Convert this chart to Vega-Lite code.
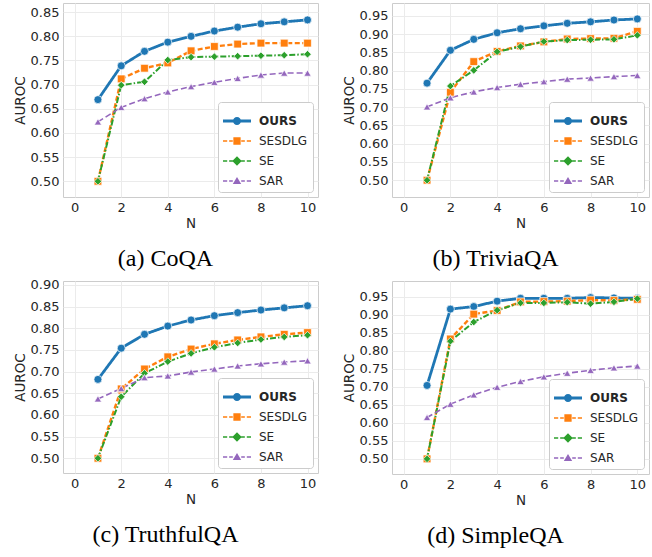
{
"$schema": "https://vega.github.io/schema/vega-lite/v6.json",
"padding": {"left": 12, "top": 2, "right": 5, "bottom": 5},
"background": "white",
"datasets": {
"coqa": [
{"method":"OURS","n":1,"auroc":0.669},{"method":"OURS","n":2,"auroc":0.739},{"method":"OURS","n":3,"auroc":0.769},{"method":"OURS","n":4,"auroc":0.788},{"method":"OURS","n":5,"auroc":0.800},{"method":"OURS","n":6,"auroc":0.811},{"method":"OURS","n":7,"auroc":0.819},{"method":"OURS","n":8,"auroc":0.826},{"method":"OURS","n":9,"auroc":0.830},{"method":"OURS","n":10,"auroc":0.834},
{"method":"SESDLG","n":1,"auroc":0.500},{"method":"SESDLG","n":2,"auroc":0.712},{"method":"SESDLG","n":3,"auroc":0.734},{"method":"SESDLG","n":4,"auroc":0.745},{"method":"SESDLG","n":5,"auroc":0.770},{"method":"SESDLG","n":6,"auroc":0.779},{"method":"SESDLG","n":7,"auroc":0.784},{"method":"SESDLG","n":8,"auroc":0.786},{"method":"SESDLG","n":9,"auroc":0.786},{"method":"SESDLG","n":10,"auroc":0.786},
{"method":"SE","n":1,"auroc":0.500},{"method":"SE","n":2,"auroc":0.699},{"method":"SE","n":3,"auroc":0.706},{"method":"SE","n":4,"auroc":0.751},{"method":"SE","n":5,"auroc":0.757},{"method":"SE","n":6,"auroc":0.758},{"method":"SE","n":7,"auroc":0.759},{"method":"SE","n":8,"auroc":0.760},{"method":"SE","n":9,"auroc":0.761},{"method":"SE","n":10,"auroc":0.763},
{"method":"SAR","n":1,"auroc":0.623},{"method":"SAR","n":2,"auroc":0.653},{"method":"SAR","n":3,"auroc":0.671},{"method":"SAR","n":4,"auroc":0.685},{"method":"SAR","n":5,"auroc":0.696},{"method":"SAR","n":6,"auroc":0.705},{"method":"SAR","n":7,"auroc":0.713},{"method":"SAR","n":8,"auroc":0.720},{"method":"SAR","n":9,"auroc":0.724},{"method":"SAR","n":10,"auroc":0.724}
],
"trivia": [
{"method":"OURS","n":1,"auroc":0.766},{"method":"OURS","n":2,"auroc":0.856},{"method":"OURS","n":3,"auroc":0.886},{"method":"OURS","n":4,"auroc":0.904},{"method":"OURS","n":5,"auroc":0.915},{"method":"OURS","n":6,"auroc":0.923},{"method":"OURS","n":7,"auroc":0.930},{"method":"OURS","n":8,"auroc":0.934},{"method":"OURS","n":9,"auroc":0.939},{"method":"OURS","n":10,"auroc":0.942},
{"method":"SESDLG","n":1,"auroc":0.500},{"method":"SESDLG","n":2,"auroc":0.741},{"method":"SESDLG","n":3,"auroc":0.825},{"method":"SESDLG","n":4,"auroc":0.853},{"method":"SESDLG","n":5,"auroc":0.868},{"method":"SESDLG","n":6,"auroc":0.879},{"method":"SESDLG","n":7,"auroc":0.887},{"method":"SESDLG","n":8,"auroc":0.888},{"method":"SESDLG","n":9,"auroc":0.889},{"method":"SESDLG","n":10,"auroc":0.908},
{"method":"SE","n":1,"auroc":0.500},{"method":"SE","n":2,"auroc":0.758},{"method":"SE","n":3,"auroc":0.801},{"method":"SE","n":4,"auroc":0.852},{"method":"SE","n":5,"auroc":0.866},{"method":"SE","n":6,"auroc":0.880},{"method":"SE","n":7,"auroc":0.884},{"method":"SE","n":8,"auroc":0.885},{"method":"SE","n":9,"auroc":0.886},{"method":"SE","n":10,"auroc":0.897},
{"method":"SAR","n":1,"auroc":0.701},{"method":"SAR","n":2,"auroc":0.726},{"method":"SAR","n":3,"auroc":0.742},{"method":"SAR","n":4,"auroc":0.754},{"method":"SAR","n":5,"auroc":0.763},{"method":"SAR","n":6,"auroc":0.770},{"method":"SAR","n":7,"auroc":0.777},{"method":"SAR","n":8,"auroc":0.780},{"method":"SAR","n":9,"auroc":0.784},{"method":"SAR","n":10,"auroc":0.787}
],
"truthful": [
{"method":"OURS","n":1,"auroc":0.682},{"method":"OURS","n":2,"auroc":0.754},{"method":"OURS","n":3,"auroc":0.786},{"method":"OURS","n":4,"auroc":0.805},{"method":"OURS","n":5,"auroc":0.819},{"method":"OURS","n":6,"auroc":0.829},{"method":"OURS","n":7,"auroc":0.836},{"method":"OURS","n":8,"auroc":0.842},{"method":"OURS","n":9,"auroc":0.847},{"method":"OURS","n":10,"auroc":0.852},
{"method":"SESDLG","n":1,"auroc":0.500},{"method":"SESDLG","n":2,"auroc":0.660},{"method":"SESDLG","n":3,"auroc":0.706},{"method":"SESDLG","n":4,"auroc":0.734},{"method":"SESDLG","n":5,"auroc":0.752},{"method":"SESDLG","n":6,"auroc":0.764},{"method":"SESDLG","n":7,"auroc":0.773},{"method":"SESDLG","n":8,"auroc":0.780},{"method":"SESDLG","n":9,"auroc":0.786},{"method":"SESDLG","n":10,"auroc":0.790},
{"method":"SE","n":1,"auroc":0.500},{"method":"SE","n":2,"auroc":0.642},{"method":"SE","n":3,"auroc":0.696},{"method":"SE","n":4,"auroc":0.723},{"method":"SE","n":5,"auroc":0.742},{"method":"SE","n":6,"auroc":0.756},{"method":"SE","n":7,"auroc":0.766},{"method":"SE","n":8,"auroc":0.774},{"method":"SE","n":9,"auroc":0.780},{"method":"SE","n":10,"auroc":0.784},
{"method":"SAR","n":1,"auroc":0.637},{"method":"SAR","n":2,"auroc":0.661},{"method":"SAR","n":3,"auroc":0.686},{"method":"SAR","n":4,"auroc":0.690},{"method":"SAR","n":5,"auroc":0.699},{"method":"SAR","n":6,"auroc":0.706},{"method":"SAR","n":7,"auroc":0.713},{"method":"SAR","n":8,"auroc":0.718},{"method":"SAR","n":9,"auroc":0.722},{"method":"SAR","n":10,"auroc":0.725}
],
"simple": [
{"method":"OURS","n":1,"auroc":0.704},{"method":"OURS","n":2,"auroc":0.916},{"method":"OURS","n":3,"auroc":0.923},{"method":"OURS","n":4,"auroc":0.938},{"method":"OURS","n":5,"auroc":0.946},{"method":"OURS","n":6,"auroc":0.946},{"method":"OURS","n":7,"auroc":0.946},{"method":"OURS","n":8,"auroc":0.948},{"method":"OURS","n":9,"auroc":0.947},{"method":"OURS","n":10,"auroc":0.946},
{"method":"SESDLG","n":1,"auroc":0.500},{"method":"SESDLG","n":2,"auroc":0.833},{"method":"SESDLG","n":3,"auroc":0.902},{"method":"SESDLG","n":4,"auroc":0.912},{"method":"SESDLG","n":5,"auroc":0.936},{"method":"SESDLG","n":6,"auroc":0.937},{"method":"SESDLG","n":7,"auroc":0.938},{"method":"SESDLG","n":8,"auroc":0.941},{"method":"SESDLG","n":9,"auroc":0.940},{"method":"SESDLG","n":10,"auroc":0.943},
{"method":"SE","n":1,"auroc":0.500},{"method":"SE","n":2,"auroc":0.827},{"method":"SE","n":3,"auroc":0.880},{"method":"SE","n":4,"auroc":0.913},{"method":"SE","n":5,"auroc":0.933},{"method":"SE","n":6,"auroc":0.933},{"method":"SE","n":7,"auroc":0.935},{"method":"SE","n":8,"auroc":0.931},{"method":"SE","n":9,"auroc":0.936},{"method":"SE","n":10,"auroc":0.945},
{"method":"SAR","n":1,"auroc":0.615},{"method":"SAR","n":2,"auroc":0.652},{"method":"SAR","n":3,"auroc":0.678},{"method":"SAR","n":4,"auroc":0.699},{"method":"SAR","n":5,"auroc":0.715},{"method":"SAR","n":6,"auroc":0.728},{"method":"SAR","n":7,"auroc":0.738},{"method":"SAR","n":8,"auroc":0.746},{"method":"SAR","n":9,"auroc":0.753},{"method":"SAR","n":10,"auroc":0.758}
]
},
"columns": 2,
"spacing": {"column": 22, "row": 7},
"resolve": {"scale": {"x": "independent", "y": "independent", "color": "independent"}, "legend": {"color": "independent"}},
"concat": [
{
"data": {"name": "coqa"},
"width": 255, "height": 194,
"title": {"text": "(a) CoQA", "orient": "bottom", "frame": "bounds", "anchor": "middle", "offset": 17},
"encoding": {
"x": {"field": "n", "type": "quantitative", "title": "N", "scale": {"domain": [-0.5, 10.45], "nice": false, "zero": false}, "axis": {"values": [0,2,4,6,8,10]}},
"y": {"field": "auroc", "type": "quantitative", "title": "AUROC", "scale": {"domain": [0.4675, 0.869], "nice": false, "zero": false}, "axis": {"values": [0.5,0.55,0.6,0.65,0.7,0.75,0.8,0.85], "format": ".2f"}}
},
"layer": [
{"mark": {"type": "line"}, "encoding": {
"stroke": {"field": "method", "type": "nominal", "scale": {"domain": ["OURS","SESDLG","SE","SAR"], "range": ["#1f77b4","#ff7f0e","#2ca02c","#9467bd"]}, "legend": null},
"strokeDash": {"field": "method", "type": "nominal", "scale": {"domain": ["OURS","SESDLG","SE","SAR"], "range": [[1,0],[5,2.5],[6,2,1.5,2],[6,3]]}, "legend": null},
"strokeWidth": {"field": "method", "type": "nominal", "scale": {"domain": ["OURS","SESDLG","SE","SAR"], "range": [2.8,1.6,1.6,1.6]}, "legend": null}}},
{"mark": {"type": "point", "filled": true, "opacity": 1, "stroke": "white", "strokeWidth": 0.7}, "encoding": {
"fill": {"field": "method", "type": "nominal", "scale": {"domain": ["OURS","SESDLG","SE","SAR"], "range": ["#1f77b4","#ff7f0e","#2ca02c","#9467bd"]}, "legend": null},
"shape": {"field": "method", "type": "nominal", "scale": {"domain": ["OURS","SESDLG","SE","SAR"], "range": ["circle","square","diamond","triangle-up"]}, "legend": null},
"size": {"field": "method", "type": "nominal", "scale": {"domain": ["OURS","SESDLG","SE","SAR"], "range": [64,53,90,50]}, "legend": null}}},
{"transform": [{"filter": "false"}], "mark": {"type": "point", "filled": true}, "encoding": {
"color": {"field": "method", "type": "nominal", "scale": {"domain": ["OURS","SESDLG","SE","SAR"], "range": ["#1f77b4","#ff7f0e","#2ca02c","#9467bd"]},
"legend": {"symbolSize": 784, "symbolStrokeWidth": 0, "symbolOpacity": 1, "encode": {"symbols": {"update": {"shape": {"signal": "datum.value === 'OURS' ? 'M-1,-0.1H1V0.1H-1Z M0.29,0A0.29,0.29 0 1,1 -0.29,0A0.29,0.29 0 1,1 0.29,0Z' : datum.value === 'SESDLG' ? 'M-1,-0.057H-0.7V0.057H-1Z M-0.56,-0.057H-0.3V0.057H-0.56Z M0.3,-0.057H0.56V0.057H0.3Z M0.7,-0.057H1V0.057H0.7Z M-0.26,-0.26H0.26V0.26H-0.26Z' : datum.value === 'SE' ? 'M-1,-0.057H-0.7V0.057H-1Z M-0.56,-0.057H-0.3V0.057H-0.56Z M0.3,-0.057H0.56V0.057H0.3Z M0.7,-0.057H1V0.057H0.7Z M0,-0.34L0.34,0L0,0.34L-0.34,0Z' : 'M-1,-0.057H-0.7V0.057H-1Z M-0.56,-0.057H-0.3V0.057H-0.56Z M0.3,-0.057H0.56V0.057H0.3Z M0.7,-0.057H1V0.057H0.7Z M0,-0.28L0.3,0.22H-0.3Z'"}}}, "labels": {"update": {"fontWeight": {"signal": "datum.label === 'OURS' ? 'bold' : 'normal'"}}}}}
}}}
]
},
{
"data": {"name": "trivia"},
"width": 257, "height": 194,
"title": {"text": "(b) TriviaQA", "orient": "bottom", "frame": "bounds", "anchor": "middle", "offset": 17},
"encoding": {
"x": {"field": "n", "type": "quantitative", "title": "N", "scale": {"domain": [-0.5, 10.5], "nice": false, "zero": false}, "axis": {"values": [0,2,4,6,8,10]}},
"y": {"field": "auroc", "type": "quantitative", "title": "AUROC", "scale": {"domain": [0.454, 0.9856], "nice": false, "zero": false}, "axis": {"values": [0.5,0.55,0.6,0.65,0.7,0.75,0.8,0.85,0.9,0.95], "format": ".2f"}}
},
"layer": [
{"mark": {"type": "line"}, "encoding": {
"stroke": {"field": "method", "type": "nominal", "scale": {"domain": ["OURS","SESDLG","SE","SAR"], "range": ["#1f77b4","#ff7f0e","#2ca02c","#9467bd"]}, "legend": null},
"strokeDash": {"field": "method", "type": "nominal", "scale": {"domain": ["OURS","SESDLG","SE","SAR"], "range": [[1,0],[5,2.5],[6,2,1.5,2],[6,3]]}, "legend": null},
"strokeWidth": {"field": "method", "type": "nominal", "scale": {"domain": ["OURS","SESDLG","SE","SAR"], "range": [2.8,1.6,1.6,1.6]}, "legend": null}}},
{"mark": {"type": "point", "filled": true, "opacity": 1, "stroke": "white", "strokeWidth": 0.7}, "encoding": {
"fill": {"field": "method", "type": "nominal", "scale": {"domain": ["OURS","SESDLG","SE","SAR"], "range": ["#1f77b4","#ff7f0e","#2ca02c","#9467bd"]}, "legend": null},
"shape": {"field": "method", "type": "nominal", "scale": {"domain": ["OURS","SESDLG","SE","SAR"], "range": ["circle","square","diamond","triangle-up"]}, "legend": null},
"size": {"field": "method", "type": "nominal", "scale": {"domain": ["OURS","SESDLG","SE","SAR"], "range": [64,53,90,50]}, "legend": null}}},
{"transform": [{"filter": "false"}], "mark": {"type": "point", "filled": true}, "encoding": {
"color": {"field": "method", "type": "nominal", "scale": {"domain": ["OURS","SESDLG","SE","SAR"], "range": ["#1f77b4","#ff7f0e","#2ca02c","#9467bd"]},
"legend": {"symbolSize": 784, "symbolStrokeWidth": 0, "symbolOpacity": 1, "encode": {"symbols": {"update": {"shape": {"signal": "datum.value === 'OURS' ? 'M-1,-0.1H1V0.1H-1Z M0.29,0A0.29,0.29 0 1,1 -0.29,0A0.29,0.29 0 1,1 0.29,0Z' : datum.value === 'SESDLG' ? 'M-1,-0.057H-0.7V0.057H-1Z M-0.56,-0.057H-0.3V0.057H-0.56Z M0.3,-0.057H0.56V0.057H0.3Z M0.7,-0.057H1V0.057H0.7Z M-0.26,-0.26H0.26V0.26H-0.26Z' : datum.value === 'SE' ? 'M-1,-0.057H-0.7V0.057H-1Z M-0.56,-0.057H-0.3V0.057H-0.56Z M0.3,-0.057H0.56V0.057H0.3Z M0.7,-0.057H1V0.057H0.7Z M0,-0.34L0.34,0L0,0.34L-0.34,0Z' : 'M-1,-0.057H-0.7V0.057H-1Z M-0.56,-0.057H-0.3V0.057H-0.56Z M0.3,-0.057H0.56V0.057H0.3Z M0.7,-0.057H1V0.057H0.7Z M0,-0.28L0.3,0.22H-0.3Z'"}}}, "labels": {"update": {"fontWeight": {"signal": "datum.label === 'OURS' ? 'bold' : 'normal'"}}}}}
}}}
]
},
{
"data": {"name": "truthful"},
"width": 255, "height": 192,
"title": {"text": "(c) TruthfulQA", "orient": "bottom", "frame": "bounds", "anchor": "middle", "offset": 17},
"encoding": {
"x": {"field": "n", "type": "quantitative", "title": "N", "scale": {"domain": [-0.5, 10.45], "nice": false, "zero": false}, "axis": {"values": [0,2,4,6,8,10]}},
"y": {"field": "auroc", "type": "quantitative", "title": "AUROC", "scale": {"domain": [0.466, 0.909], "nice": false, "zero": false}, "axis": {"values": [0.5,0.55,0.6,0.65,0.7,0.75,0.8,0.85,0.9], "format": ".2f"}}
},
"layer": [
{"mark": {"type": "line"}, "encoding": {
"stroke": {"field": "method", "type": "nominal", "scale": {"domain": ["OURS","SESDLG","SE","SAR"], "range": ["#1f77b4","#ff7f0e","#2ca02c","#9467bd"]}, "legend": null},
"strokeDash": {"field": "method", "type": "nominal", "scale": {"domain": ["OURS","SESDLG","SE","SAR"], "range": [[1,0],[5,2.5],[6,2,1.5,2],[6,3]]}, "legend": null},
"strokeWidth": {"field": "method", "type": "nominal", "scale": {"domain": ["OURS","SESDLG","SE","SAR"], "range": [2.8,1.6,1.6,1.6]}, "legend": null}}},
{"mark": {"type": "point", "filled": true, "opacity": 1, "stroke": "white", "strokeWidth": 0.7}, "encoding": {
"fill": {"field": "method", "type": "nominal", "scale": {"domain": ["OURS","SESDLG","SE","SAR"], "range": ["#1f77b4","#ff7f0e","#2ca02c","#9467bd"]}, "legend": null},
"shape": {"field": "method", "type": "nominal", "scale": {"domain": ["OURS","SESDLG","SE","SAR"], "range": ["circle","square","diamond","triangle-up"]}, "legend": null},
"size": {"field": "method", "type": "nominal", "scale": {"domain": ["OURS","SESDLG","SE","SAR"], "range": [64,53,90,50]}, "legend": null}}},
{"transform": [{"filter": "false"}], "mark": {"type": "point", "filled": true}, "encoding": {
"color": {"field": "method", "type": "nominal", "scale": {"domain": ["OURS","SESDLG","SE","SAR"], "range": ["#1f77b4","#ff7f0e","#2ca02c","#9467bd"]},
"legend": {"symbolSize": 784, "symbolStrokeWidth": 0, "symbolOpacity": 1, "encode": {"symbols": {"update": {"shape": {"signal": "datum.value === 'OURS' ? 'M-1,-0.1H1V0.1H-1Z M0.29,0A0.29,0.29 0 1,1 -0.29,0A0.29,0.29 0 1,1 0.29,0Z' : datum.value === 'SESDLG' ? 'M-1,-0.057H-0.7V0.057H-1Z M-0.56,-0.057H-0.3V0.057H-0.56Z M0.3,-0.057H0.56V0.057H0.3Z M0.7,-0.057H1V0.057H0.7Z M-0.26,-0.26H0.26V0.26H-0.26Z' : datum.value === 'SE' ? 'M-1,-0.057H-0.7V0.057H-1Z M-0.56,-0.057H-0.3V0.057H-0.56Z M0.3,-0.057H0.56V0.057H0.3Z M0.7,-0.057H1V0.057H0.7Z M0,-0.34L0.34,0L0,0.34L-0.34,0Z' : 'M-1,-0.057H-0.7V0.057H-1Z M-0.56,-0.057H-0.3V0.057H-0.56Z M0.3,-0.057H0.56V0.057H0.3Z M0.7,-0.057H1V0.057H0.7Z M0,-0.28L0.3,0.22H-0.3Z'"}}}, "labels": {"update": {"fontWeight": {"signal": "datum.label === 'OURS' ? 'bold' : 'normal'"}}}}}
}}}
]
},
{
"data": {"name": "simple"},
"width": 257, "height": 193,
"title": {"text": "(d) SimpleQA", "orient": "bottom", "frame": "bounds", "anchor": "middle", "offset": 17},
"encoding": {
"x": {"field": "n", "type": "quantitative", "title": "N", "scale": {"domain": [-0.5, 10.5], "nice": false, "zero": false}, "axis": {"values": [0,2,4,6,8,10]}},
"y": {"field": "auroc", "type": "quantitative", "title": "AUROC", "scale": {"domain": [0.458, 0.994], "nice": false, "zero": false}, "axis": {"values": [0.5,0.55,0.6,0.65,0.7,0.75,0.8,0.85,0.9,0.95], "format": ".2f"}}
},
"layer": [
{"mark": {"type": "line"}, "encoding": {
"stroke": {"field": "method", "type": "nominal", "scale": {"domain": ["OURS","SESDLG","SE","SAR"], "range": ["#1f77b4","#ff7f0e","#2ca02c","#9467bd"]}, "legend": null},
"strokeDash": {"field": "method", "type": "nominal", "scale": {"domain": ["OURS","SESDLG","SE","SAR"], "range": [[1,0],[5,2.5],[6,2,1.5,2],[6,3]]}, "legend": null},
"strokeWidth": {"field": "method", "type": "nominal", "scale": {"domain": ["OURS","SESDLG","SE","SAR"], "range": [2.8,1.6,1.6,1.6]}, "legend": null}}},
{"mark": {"type": "point", "filled": true, "opacity": 1, "stroke": "white", "strokeWidth": 0.7}, "encoding": {
"fill": {"field": "method", "type": "nominal", "scale": {"domain": ["OURS","SESDLG","SE","SAR"], "range": ["#1f77b4","#ff7f0e","#2ca02c","#9467bd"]}, "legend": null},
"shape": {"field": "method", "type": "nominal", "scale": {"domain": ["OURS","SESDLG","SE","SAR"], "range": ["circle","square","diamond","triangle-up"]}, "legend": null},
"size": {"field": "method", "type": "nominal", "scale": {"domain": ["OURS","SESDLG","SE","SAR"], "range": [64,53,90,50]}, "legend": null}}},
{"transform": [{"filter": "false"}], "mark": {"type": "point", "filled": true}, "encoding": {
"color": {"field": "method", "type": "nominal", "scale": {"domain": ["OURS","SESDLG","SE","SAR"], "range": ["#1f77b4","#ff7f0e","#2ca02c","#9467bd"]},
"legend": {"symbolSize": 784, "symbolStrokeWidth": 0, "symbolOpacity": 1, "encode": {"symbols": {"update": {"shape": {"signal": "datum.value === 'OURS' ? 'M-1,-0.1H1V0.1H-1Z M0.29,0A0.29,0.29 0 1,1 -0.29,0A0.29,0.29 0 1,1 0.29,0Z' : datum.value === 'SESDLG' ? 'M-1,-0.057H-0.7V0.057H-1Z M-0.56,-0.057H-0.3V0.057H-0.56Z M0.3,-0.057H0.56V0.057H0.3Z M0.7,-0.057H1V0.057H0.7Z M-0.26,-0.26H0.26V0.26H-0.26Z' : datum.value === 'SE' ? 'M-1,-0.057H-0.7V0.057H-1Z M-0.56,-0.057H-0.3V0.057H-0.56Z M0.3,-0.057H0.56V0.057H0.3Z M0.7,-0.057H1V0.057H0.7Z M0,-0.34L0.34,0L0,0.34L-0.34,0Z' : 'M-1,-0.057H-0.7V0.057H-1Z M-0.56,-0.057H-0.3V0.057H-0.56Z M0.3,-0.057H0.56V0.057H0.3Z M0.7,-0.057H1V0.057H0.7Z M0,-0.28L0.3,0.22H-0.3Z'"}}}, "labels": {"update": {"fontWeight": {"signal": "datum.label === 'OURS' ? 'bold' : 'normal'"}}}}}
}}}
]
}
],
"config": {
"view": {"stroke": "#cccccc", "strokeWidth": 1},
"font": "DejaVu Sans",
"axis": {"grid": true, "gridColor": "#ebebeb", "gridWidth": 1, "domain": false, "ticks": false, "tickSize": 0, "labelFont": "DejaVu Sans", "labelFontSize": 13, "labelColor": "#262626", "titleFont": "DejaVu Sans", "titleFontSize": 13.5, "titleFontWeight": "normal", "titleColor": "#262626"},
"axisX": {"labelPadding": 4, "titlePadding": 2, "labelFlush": false},
"axisY": {"labelPadding": 4, "titlePadding": 3},
"legend": {"orient": "bottom-right", "offset": 5, "padding": 5, "rowPadding": -2, "labelOffset": 8, "fillColor": "white", "strokeColor": "#cccccc", "cornerRadius": 3, "title": null, "labelFont": "DejaVu Sans", "labelFontSize": 12, "labelColor": "#262626"},
"title": {"font": "Liberation Serif", "fontSize": 24, "fontWeight": "normal", "color": "black"}
}
}
